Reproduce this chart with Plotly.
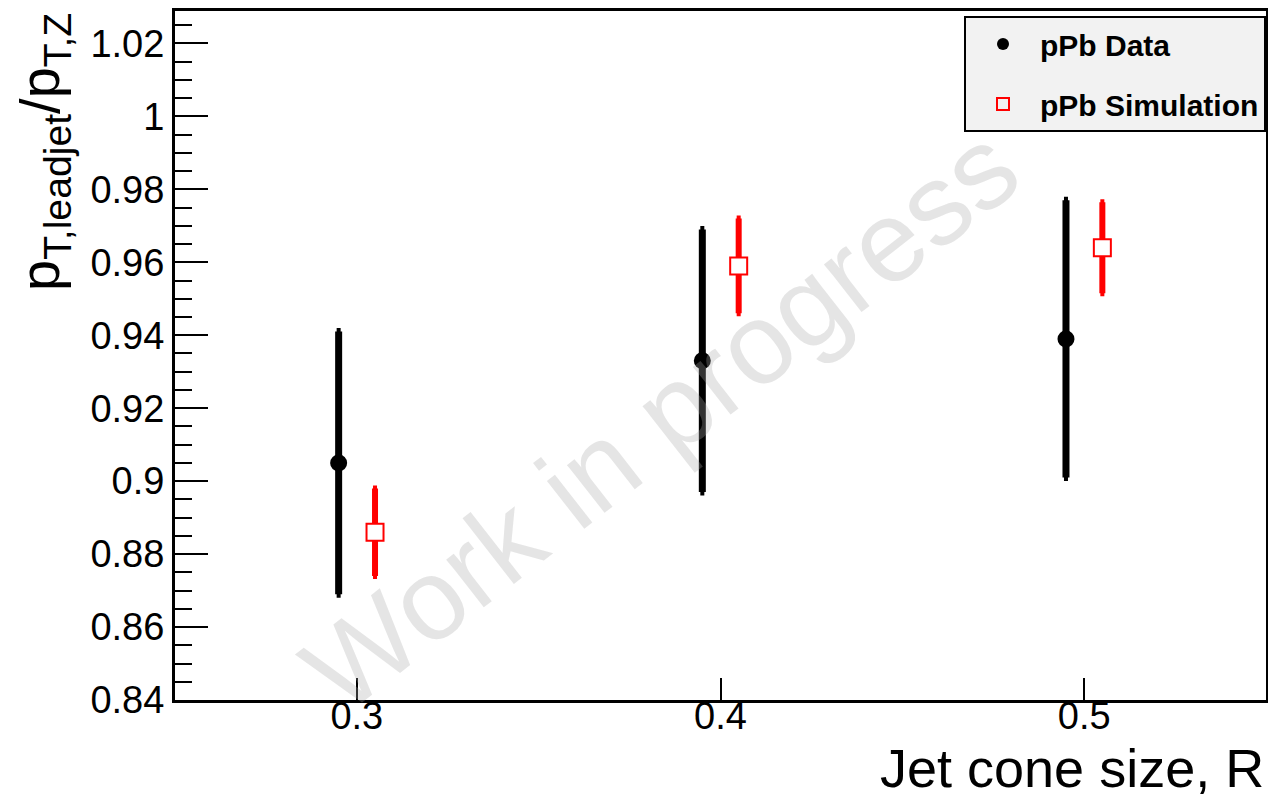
import plotly.graph_objects as go

# Data
r_data = [0.295, 0.395, 0.495]
ratio_data = [0.905, 0.933, 0.939]
err_data = [0.036, 0.036, 0.038]

r_sim = [0.305, 0.405, 0.505]
ratio_sim = [0.886, 0.959, 0.964]
err_sim = [0.012, 0.013, 0.0125]

x_ticks = [0.3, 0.4, 0.5]
x_tick_text = ["0.3", "0.4", "0.5"]
y_ticks = [0.84, 0.86, 0.88, 0.9, 0.92, 0.94, 0.96, 0.98, 1.0, 1.02]
y_tick_text = ["0.84", "0.86", "0.88", "0.9", "0.92", "0.94", "0.96", "0.98", "1", "1.02"]

FONT = "Liberation Sans, Arial, Helvetica, sans-serif"

# page offset (browser body margin) compensation
W, H = 1262, 790
L, R, T, B = 167, 4, 0, 98
PW, PH = W - L - R, H - T - B

fig = go.Figure()

fig.add_trace(go.Scatter(
    x=r_data, y=ratio_data, mode="markers", showlegend=False,
    marker=dict(symbol="circle", size=17, color="black"),
    error_y=dict(type="data", array=err_data, color="black", thickness=7, width=2),
))
fig.add_trace(go.Scatter(
    x=r_sim, y=ratio_sim, mode="markers", showlegend=False,
    marker=dict(symbol="square", size=17, color="white", line=dict(color="red", width=2)),
    error_y=dict(type="data", array=err_sim, color="red", thickness=6, width=2),
))

# legend entries
fig.add_trace(go.Scatter(
    x=[None], y=[None], mode="markers", name="pPb Data", legendgroup="a",
    marker=dict(symbol="circle", size=16, color="black"),
))
fig.add_trace(go.Scatter(
    x=[None], y=[None], mode="markers", name="pPb Simulation", legendgroup="b",
    marker=dict(symbol="square-open", size=16, color="red", line=dict(width=2)),
))

fig.update_layout(
    width=W, height=H,
    margin=dict(l=L, r=R, t=T, b=B),
    paper_bgcolor="white", plot_bgcolor="white",
    font=dict(family=FONT, color="black"),
    legend=dict(
        x=1, xanchor="right", y=1 - 5 / PH, yanchor="top",
        bgcolor="#f2f2f2", bordercolor="black", borderwidth=2,
        font=dict(family=FONT, size=30, color="black", weight="bold"),
        tracegroupgap=18, itemsizing="constant", itemwidth=64,
    ),
    xaxis=dict(
        range=[0.25, 0.55], tickvals=x_ticks, ticktext=x_tick_text,
        ticks="inside", ticklen=22, tickwidth=2, tickcolor="black",
        showline=True, linewidth=3, linecolor="black", mirror=True,
        showgrid=False, zeroline=False, ticklabelstandoff=-20,
        tickfont=dict(family=FONT, size=38, color="black"),
    ),
    yaxis=dict(
        range=[0.84, 1.0289], tickvals=y_ticks, ticktext=y_tick_text,
        ticks="inside", ticklen=33, tickwidth=2, tickcolor="black",
        minor=dict(dtick=0.005, tick0=0.84, ticks="inside", ticklen=17, tickwidth=2, tickcolor="black"),
        showline=True, linewidth=3, linecolor="black", mirror=True,
        showgrid=False, zeroline=False,
        tickfont=dict(family=FONT, size=38, color="black"),
    ),
)

# Axis titles
fig.add_annotation(
    text="p<sub>T,leadjet</sub>/p<sub>T,Z</sub>", textangle=-90,
    xref="paper", yref="paper", x=-132 / PW, y=1.0, xanchor="center", yanchor="top",
    showarrow=False, font=dict(family=FONT, size=56, color="black"),
)
fig.add_annotation(
    text="Jet cone size, R",
    xref="paper", yref="paper", x=1.0, y=-68 / PH, xanchor="right", yanchor="middle",
    showarrow=False, font=dict(family=FONT, size=54, color="black"),
)

# Watermark
fig.add_annotation(
    text="Work in progress", textangle=-38,
    xref="paper", yref="paper", x=(660 - 175) / PW, y=(700 - 418) / PH,
    xanchor="center", yanchor="middle",
    showarrow=False, font=dict(family=FONT, size=115, color="rgba(170,170,170,0.3)"),
)

fig.write_html("out.html")
